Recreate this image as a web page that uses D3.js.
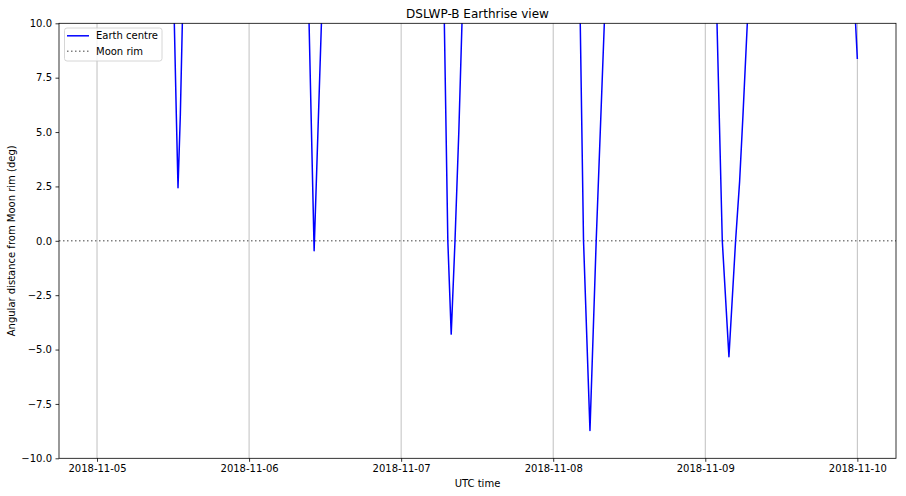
<!DOCTYPE html>
<html>
<head>
<meta charset="utf-8">
<script src="https://cdn.jsdelivr.net/npm/d3@7"></script>
<style>
  body { margin: 0; background: #fff; }
  svg { display: block; font-family: "DejaVu Sans", sans-serif; }
</style>
</head>
<body>
<svg id="chart" width="906" height="496"></svg>
<script>
// ---- data (UTC times, angular distance in degrees) ----
const times = [
  "2018-11-05T00:00", "2018-11-05T12:12", "2018-11-05T12:31", "2018-11-05T12:47", "2018-11-05T13:09", "2018-11-05T13:28",
  "2018-11-05T22:00",
  "2018-11-06T09:28", "2018-11-06T10:16", "2018-11-06T11:25",
  "2018-11-06T20:00",
  "2018-11-07T06:49", "2018-11-07T07:22", "2018-11-07T07:54", "2018-11-07T08:30", "2018-11-07T09:06", "2018-11-07T09:36",
  "2018-11-07T18:00",
  "2018-11-08T04:16", "2018-11-08T04:47", "2018-11-08T05:48", "2018-11-08T06:47", "2018-11-08T08:04",
  "2018-11-08T16:00",
  "2018-11-09T01:51", "2018-11-09T02:41", "2018-11-09T03:44", "2018-11-09T04:47", "2018-11-09T05:25", "2018-11-09T05:57", "2018-11-09T06:38",
  "2018-11-09T15:00",
  "2018-11-09T23:43", "2018-11-10T00:00"
];
const earthCentre = [
  40, 10, 5.78, 2.44, 5.78, 10,
  45,
  10, -0.46, 10,
  45,
  10, 0, -4.29, 0, 5, 10,
  45,
  10, 0, -8.72, 0, 10,
  45,
  10, 0, -5.33, 0, 2.72, 5.78, 10,
  45,
  10, 8.36
];
const moonRim = 0;
const xTickLabels = ["2018-11-05", "2018-11-06", "2018-11-07", "2018-11-08", "2018-11-09", "2018-11-10"];
const yTicks = [-10, -7.5, -5, -2.5, 0, 2.5, 5, 7.5, 10];
const seriesNames = ["Earth centre", "Moon rim"];
const titleText = "DSLWP-B Earthrise view";
const xLabelText = "UTC time";
const yLabelText = "Angular distance from Moon rim (deg)";

// ---- layout ----
const svg = d3.select("#chart");
const L = 59, R = 896, T = 23.3, B = 458.3;
const parse = d3.utcParse("%Y-%m-%dT%H:%M");
const data = times.map((t, i) => ({ t: parse(t), v: earthCentre[i] }));

const x = d3.scaleUtc()
  .domain([parse("2018-11-04T18:00"), parse("2018-11-10T06:06")])
  .range([L, R]);
const y = d3.scaleLinear().domain([-10, 10]).range([B, T]);

const fmtMinus = v => d3.format(".1f")(v).replace("-", "\u2212");

// grid (x only)
const xTickDates = xTickLabels.map(s => d3.utcParse("%Y-%m-%d")(s));
svg.append("g").selectAll("line").data(xTickDates).join("line")
  .attr("x1", d => x(d)).attr("x2", d => x(d))
  .attr("y1", T).attr("y2", B)
  .attr("stroke", "#b0b0b0").attr("stroke-width", 0.8);

// clip
svg.append("clipPath").attr("id", "clip").append("rect")
  .attr("x", L).attr("y", T).attr("width", R - L).attr("height", B - T);

// moon rim line
svg.append("line")
  .attr("x1", L).attr("x2", R)
  .attr("y1", y(moonRim)).attr("y2", y(moonRim))
  .attr("stroke", "#808080").attr("stroke-width", 1.5)
  .attr("stroke-dasharray", "1.5,2.5");

// earth centre line
const line = d3.line().x(d => x(d.t)).y(d => y(d.v));
svg.append("path").datum(data)
  .attr("clip-path", "url(#clip)")
  .attr("d", line)
  .attr("fill", "none")
  .attr("stroke", "#0000ff").attr("stroke-width", 1.5)
  .attr("stroke-linejoin", "round");

// axes
const xAxis = d3.axisBottom(x).tickValues(xTickDates)
  .tickFormat((d, i) => xTickLabels[i]).tickSizeOuter(0).tickSize(3.5).tickPadding(3.5);
const gx = svg.append("g").attr("transform", `translate(0,${B})`).call(xAxis);
const yAxis = d3.axisLeft(y).tickValues(yTicks).tickFormat(fmtMinus)
  .tickSizeOuter(0).tickSize(3.5).tickPadding(3.5);
const gy = svg.append("g").attr("transform", `translate(${L},0)`).call(yAxis);
[gx, gy].forEach(g => {
  g.select(".domain").remove();
  g.selectAll("line").attr("stroke", "#000").attr("stroke-width", 0.8);
  g.selectAll("text").attr("font-size", 10).attr("fill", "#000")
    .attr("font-family", "DejaVu Sans, sans-serif");
});

// frame
svg.append("rect").attr("x", L).attr("y", T).attr("width", R - L).attr("height", B - T)
  .attr("fill", "none").attr("stroke", "#000").attr("stroke-width", 0.8);

// title & labels
svg.append("text").attr("x", (L + R) / 2).attr("y", 17.5).attr("text-anchor", "middle")
  .attr("font-size", 12).text(titleText);
svg.append("text").attr("x", (L + R) / 2).attr("y", 487).attr("text-anchor", "middle")
  .attr("font-size", 10).text(xLabelText);
svg.append("text").attr("transform", `translate(15,${(T + B) / 2}) rotate(-90)`)
  .attr("text-anchor", "middle").attr("font-size", 10).text(yLabelText);

// legend
const lg = svg.append("g");
lg.append("rect").attr("x", 64.5).attr("y", 28).attr("width", 97.5).attr("height", 33)
  .attr("rx", 2.5).attr("fill", "#fff").attr("fill-opacity", 0.8)
  .attr("stroke", "#cccccc").attr("stroke-width", 0.8);
const legendStyles = [
  { color: "#0000ff", dash: null },
  { color: "#808080", dash: "1.5,2.5" }
];
seriesNames.forEach((name, i) => {
  const yy = 35.8 + i * 15.5;
  lg.append("line").attr("x1", 67).attr("x2", 89).attr("y1", yy).attr("y2", yy)
    .attr("stroke", legendStyles[i].color).attr("stroke-width", 1.5)
    .attr("stroke-dasharray", legendStyles[i].dash);
  lg.append("text").attr("x", 96).attr("y", yy + 3.6).attr("font-size", 10).text(name);
});
</script>
</body>
</html>
